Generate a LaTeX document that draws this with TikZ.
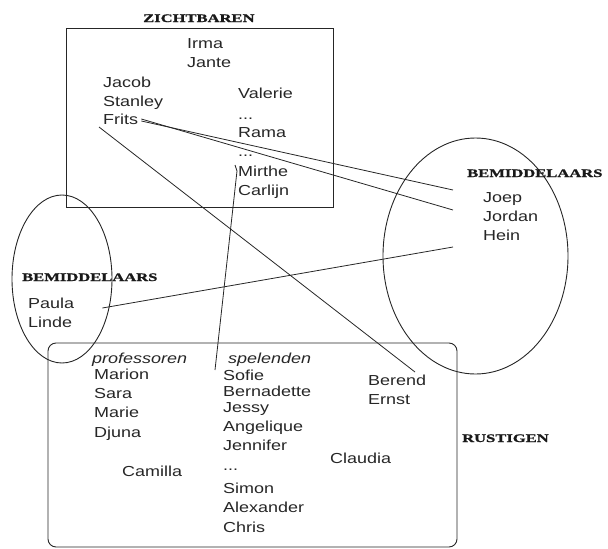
\documentclass[tikz,border=0pt]{standalone}
\usepackage{fontspec}
\setmainfont[FakeStretch=1.24]{Liberation Sans}
\newfontfamily\hdrfont[FakeStretch=1.44,FakeBold=1.2]{Liberation Serif}
\begin{document}
\begin{tikzpicture}[x=1pt,y=-1pt,
  nm/.style={anchor=base west,inner sep=0pt,font=\fontsize{14.5}{16}\selectfont,text=black!85},
  it/.style={nm,font=\fontsize{14.5}{16}\selectfont\itshape},
  hdr/.style={anchor=base west,inner sep=0pt,font=\hdrfont\bfseries\fontsize{11.5}{13}\selectfont,text=black!90},
  ln/.style={draw=black!85,line width=0.8pt},
  shp/.style={draw=black!85,line width=0.9pt}]
\useasboundingbox (0,0) rectangle (608,549);
% shapes
\draw[shp] (66,28) rectangle (333,207);
\draw[shp] (62,279) ellipse [x radius=50pt, y radius=84pt];
\draw[shp] (475.5,256) ellipse [x radius=92.5pt, y radius=118pt];
\draw[shp,rounded corners=8pt] (48,343) rectangle (457,547);
% headers
\node[hdr] (hz) at (143,22) {ZICHTBAREN};
\node[hdr] (hbr) at (467,177) {BEMIDDELAARS};
\node[hdr] (hbl) at (22,281) {BEMIDDELAARS};
\node[hdr] (hr) at (462,442) {RUSTIGEN};
% top box names
\node[nm] (Irma) at (187,48) {Irma};
\node[nm] (Jante) at (187,67) {Jante};
\node[nm] (Jacob) at (103,87) {Jacob};
\node[nm] (Stanley) at (103,106) {Stanley};
\node[nm] (Frits) at (103,124) {Frits};
\node[nm] (Valerie) at (238,98) {Valerie};
\node[nm] (d1) at (238,119) {...};
\node[nm] (Rama) at (238,137) {Rama};
\node[nm] (d2) at (238,156) {...};
\node[nm] (Mirthe) at (238,176) {Mirthe};
\node[nm] (Carlijn) at (238,195) {Carlijn};
% right
\node[nm] (Joep) at (483,202) {Joep};
\node[nm] (Jordan) at (483,221) {Jordan};
\node[nm] (Hein) at (483,240) {Hein};
% left
\node[nm] (Paula) at (28,308) {Paula};
\node[nm] (Linde) at (28,327) {Linde};
% bottom
\node[it] (prof) at (92,363) {professoren};
\node[nm] (Marion) at (94,379) {Marion};
\node[nm] (Sara) at (94,398) {Sara};
\node[nm] (Marie) at (94,417) {Marie};
\node[nm] (Djuna) at (94,437) {Djuna};
\node[nm] (Camilla) at (122,476) {Camilla};
\node[it] (spel) at (228,363) {spelenden};
\node[nm] (Sofie) at (223,380) {Sofie};
\node[nm] (Bernadette) at (223,396) {Bernadette};
\node[nm] (Jessy) at (223,412) {Jessy};
\node[nm] (Angelique) at (223,431) {Angelique};
\node[nm] (Jennifer) at (223,450) {Jennifer};
\node[nm] (d3) at (223,470) {...};
\node[nm] (Simon) at (223,493) {Simon};
\node[nm] (Alexander) at (223,512) {Alexander};
\node[nm] (Chris) at (223,532) {Chris};
\node[nm] (Berend) at (368,385) {Berend};
\node[nm] (Ernst) at (368,404) {Ernst};
\node[nm] (Claudia) at (330,463) {Claudia};
% connectors
\coordinate (fs) at ([shift={(3,-3)}]Frits.base east);
\coordinate (eJoep) at ([shift={(-30,-12)}]Joep.base west);
\coordinate (eJordan) at ([shift={(-30,-11)}]Jordan.base west);
\coordinate (eHein) at ([shift={(-30,7)}]Hein.base west);
\draw[ln] (fs) -- (eJoep);
\draw[ln] ([yshift=2]fs) -- (eJordan);
\draw[ln] ([shift={(28,0)}]Paula.base east) -- (eHein);
\draw[ln] ([shift={(-4,3)}]Frits.base west) -- ([shift={(47,-13)}]Berend.base west);
\draw[ln] ([shift={(-3,-11)}]Mirthe.base west) -- ([shift={(-1,-5)}]Mirthe.base west) -- ([shift={(-8,-10)}]Sofie.base west);
\end{tikzpicture}
\end{document}
